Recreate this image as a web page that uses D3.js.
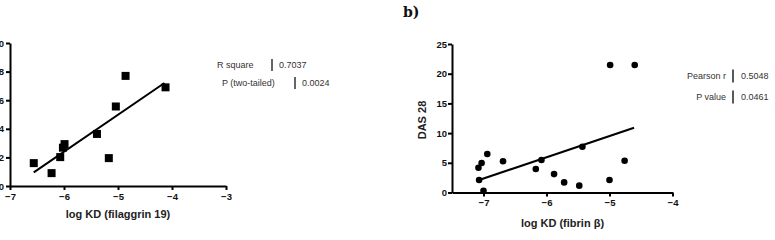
<!DOCTYPE html>
<html><head><meta charset="utf-8">
<script src="https://cdn.jsdelivr.net/npm/d3@7"></script>
<style>
html,body{margin:0;padding:0;background:#fff;}
svg{display:block;}
</style></head>
<body>
<svg id="chart" width="775" height="240"></svg>
<script>
// Panel a: filaggrin 19
const aX = [-6.56, -6.23, -6.07, -6.02, -5.99, -5.39, -5.17, -5.04, -4.86, -4.12];
const aY = [1.6, 0.9, 2.02, 2.68, 2.93, 3.64, 1.95, 5.56, 7.7, 6.9];
const aFitX = [-6.56, -4.14];
const aFitY = [0.95, 7.2];
const aXTicks = [-7, -6, -5, -4, -3];
const aYTicks = [0, 2, 4, 6, 8, 10];
const aStatLabels = ["R square", "P (two-tailed)"];
const aStatValues = ["0.7037", "0.0024"];

// Panel b: fibrin beta
const bX = [-7.08, -7.03, -6.94, -7.07, -7.0, -6.69, -6.17, -6.08, -5.88, -5.72, -5.48, -5.43, -5.0, -4.76, -4.99, -4.6];
const bY = [4.17, 4.97, 6.48, 2.1, 0.3, 5.25, 3.96, 5.47, 3.1, 1.7, 1.15, 7.7, 2.1, 5.35, 21.46, 21.46];
const bFitX = [-7.07, -4.61];
const bFitY = [2.1, 10.9];
const bXTicks = [-7, -6, -5, -4];
const bYTicks = [0, 5, 10, 15, 20, 25];
const bStatLabels = ["Pearson r", "P value"];
const bStatValues = ["0.5048", "0.0461"];

const svg = d3.select("#chart");
const tickFont = "'Liberation Sans', Arial, sans-serif";

function styleAxis(g) {
  g.selectAll(".domain").attr("stroke", "#000").attr("stroke-width", 2);
  g.selectAll(".tick line").attr("stroke", "#000").attr("stroke-width", 2);
  g.selectAll(".tick text").attr("fill", "#111").attr("font-family", tickFont)
    .attr("font-weight", "bold").attr("font-size", 9.5);
}

// ---------- Panel a ----------
const ax = d3.scaleLinear().domain([-7, -3]).range([10, 226]);
const ay = d3.scaleLinear().domain([0, 10]).range([186, 43]);

const aG = svg.append("g");
aG.append("g").attr("transform", "translate(0,186)")
  .call(d3.axisBottom(ax).tickValues(aXTicks).tickSize(4).tickSizeOuter(0).tickPadding(3).tickFormat(d3.format("d")))
  .call(styleAxis);
aG.append("g").attr("transform", "translate(10,0)")
  .call(d3.axisLeft(ay).tickValues(aYTicks).tickSize(4).tickSizeOuter(0).tickPadding(2).tickFormat(d3.format("d")))
  .call(styleAxis);

aG.append("line")
  .attr("x1", ax(aFitX[0])).attr("y1", ay(aFitY[0]))
  .attr("x2", ax(aFitX[1])).attr("y2", ay(aFitY[1]))
  .attr("stroke", "#000").attr("stroke-width", 2);

aG.selectAll("rect.pt").data(aX.map((x, i) => [x, aY[i]])).join("rect")
  .attr("class", "pt")
  .attr("x", d => ax(d[0]) - 4).attr("y", d => ay(d[1]) - 4)
  .attr("width", 8).attr("height", 8).attr("fill", "#000");

aG.append("text").attr("x", 118).attr("y", 218).attr("text-anchor", "middle")
  .attr("font-family", tickFont).attr("font-weight", "bold").attr("font-size", 11).attr("fill", "#222")
  .text("log KD (filaggrin 19)");

// stats a
const aStatPos = [{lx: 217, bx: 272, vx: 279, y: 65}, {lx: 222, bx: 295, vx: 302, y: 83}];
aStatPos.forEach((p, i) => {
  aG.append("text").attr("x", p.lx).attr("y", p.y + 3.2)
    .attr("font-family", tickFont).attr("font-size", 9).attr("fill", "#333").text(aStatLabels[i]);
  aG.append("line").attr("x1", p.bx).attr("x2", p.bx).attr("y1", p.y - 6).attr("y2", p.y + 6)
    .attr("stroke", "#333").attr("stroke-width", 1.5);
  aG.append("text").attr("x", p.vx).attr("y", p.y + 3.2)
    .attr("font-family", tickFont).attr("font-size", 9).attr("fill", "#333").text(aStatValues[i]);
});

// ---------- Panel b ----------
svg.append("text").attr("x", 403).attr("y", 17)
  .attr("font-family", "'DejaVu Serif', 'Liberation Serif', serif").attr("font-weight", "bold")
  .attr("font-size", 14).attr("fill", "#111").text("b)");

const bx = d3.scaleLinear().domain([-7.5, -4]).range([452, 672.5]);
const by = d3.scaleLinear().domain([0, 25]).range([192.5, 44]);

const bG = svg.append("g");
bG.append("g").attr("transform", "translate(0,192.5)")
  .call(d3.axisBottom(bx).tickValues(bXTicks).tickSize(4).tickSizeOuter(0).tickPadding(3).tickFormat(d3.format("d")))
  .call(styleAxis);
bG.append("g").attr("transform", "translate(452,0)")
  .call(d3.axisLeft(by).tickValues(bYTicks).tickSize(4).tickSizeOuter(0).tickPadding(1).tickFormat(d3.format("d")))
  .call(styleAxis);

bG.append("line")
  .attr("x1", bx(bFitX[0])).attr("y1", by(bFitY[0]))
  .attr("x2", bx(bFitX[1])).attr("y2", by(bFitY[1]))
  .attr("stroke", "#000").attr("stroke-width", 2);

bG.selectAll("circle.pt").data(bX.map((x, i) => [x, bY[i]])).join("circle")
  .attr("class", "pt")
  .attr("cx", d => bx(d[0])).attr("cy", d => by(d[1])).attr("r", 3.3).attr("fill", "#000");

bG.append("text").attr("x", 562.5).attr("y", 226.5).attr("text-anchor", "middle")
  .attr("font-family", tickFont).attr("font-weight", "bold").attr("font-size", 11).attr("fill", "#222")
  .text("log KD (fibrin β)");

bG.append("text").attr("transform", "translate(425.5,120) rotate(-90)").attr("text-anchor", "middle")
  .attr("font-family", tickFont).attr("font-weight", "bold").attr("font-size", 11).attr("fill", "#222")
  .text("DAS 28");

const bStatPos = [{rx: 726, bx: 733, vx: 741, y: 76}, {rx: 726, bx: 733, vx: 741, y: 97}];
bStatPos.forEach((p, i) => {
  bG.append("text").attr("x", p.rx).attr("y", p.y + 3.2).attr("text-anchor", "end")
    .attr("font-family", tickFont).attr("font-size", 9).attr("fill", "#333").text(bStatLabels[i]);
  bG.append("line").attr("x1", p.bx).attr("x2", p.bx).attr("y1", p.y - 6.5).attr("y2", p.y + 6.5)
    .attr("stroke", "#222").attr("stroke-width", 1.5);
  bG.append("text").attr("x", p.vx).attr("y", p.y + 3.2)
    .attr("font-family", tickFont).attr("font-size", 9).attr("fill", "#333").text(bStatValues[i]);
});
</script>
</body></html>
